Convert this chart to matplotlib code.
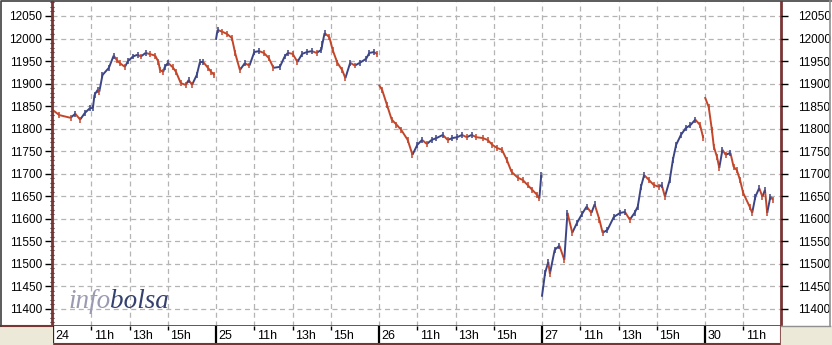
import matplotlib
matplotlib.use("Agg")
import matplotlib.pyplot as plt
from matplotlib.collections import LineCollection
from matplotlib.patches import Rectangle
from matplotlib.lines import Line2D
import numpy as np

# sesiones del gráfico (9:00 a 17:30) y horas marcadas en el eje
dias = ["24", "25", "26", "27", "30"]
horas = ["11h", "13h", "15h"]
horas_num = [11, 13, 15]

# minutos desde la apertura y cotización
t24 = [0, 20, 55, 70, 85, 100, 115, 125, 130, 140, 145, 155, 175, 190, 200, 210, 225, 235, 250, 265,
       275, 290, 305, 320, 330, 335, 345, 350, 360, 375, 385, 400, 415, 425, 435, 450, 460, 470, 485, 495, 505]
p24 = [11841, 11830, 11824, 11833, 11820, 11835, 11845, 11846, 11875, 11886, 11882, 11919, 11935, 11962,
       11952, 11945, 11937, 11950, 11960, 11964, 11960, 11968, 11965, 11962, 11948, 11930, 11926, 11937,
       11946, 11936, 11926, 11901, 11897, 11908, 11897, 11919, 11948, 11948, 11935, 11926, 11919]

t25 = [0, 5, 20, 35, 50, 60, 75, 90, 105, 120, 135, 150, 165, 180, 200, 215, 225, 240, 255, 270,
       285, 300, 315, 330, 333, 340, 355, 365, 380, 395, 405, 420, 435, 450, 470, 480, 495, 505]
p25 = [11997, 12019, 12015, 12010, 12001, 11968, 11930, 11945, 11940, 11970, 11972, 11968, 11957, 11935,
       11937, 11960, 11968, 11966, 11948, 11966, 11970, 11972, 11968, 11975, 11988, 12012, 12003, 11975,
       11946, 11930, 11912, 11946, 11940, 11946, 11955, 11968, 11970, 11965]

t26 = [0, 10, 25, 40, 55, 70, 90, 105, 120, 135, 150, 165, 180, 200, 215, 230, 245, 260, 275, 290,
       305, 325, 340, 355, 370, 385, 400, 415, 435, 450, 465, 480, 495, 502, 508]
p26 = [11897, 11886, 11853, 11820, 11809, 11797, 11775, 11742, 11764, 11775, 11766, 11775, 11779, 11786,
       11775, 11779, 11781, 11786, 11781, 11786, 11781, 11779, 11775, 11764, 11757, 11753, 11731, 11704,
       11691, 11686, 11675, 11664, 11653, 11645, 11697]

t27 = [0, 10, 20, 25, 40, 55, 70, 80, 95, 110, 125, 140, 155, 165, 180, 190, 205, 225, 245, 260,
       275, 290, 300, 310, 320, 335, 350, 365, 375, 385, 400, 410, 420, 435, 450, 465, 480, 495, 505]
p27 = [11427, 11480, 11504, 11478, 11531, 11540, 11509, 11613, 11569, 11591, 11610, 11627, 11613, 11632,
       11598, 11569, 11575, 11604, 11613, 11615, 11598, 11613, 11627, 11671, 11697, 11686, 11675, 11671,
       11675, 11649, 11686, 11731, 11764, 11786, 11801, 11808, 11820, 11808, 11779]

t30 = [0, 12, 22, 28, 38, 45, 55, 65, 80, 90, 100, 110, 120, 140, 148, 158, 170, 180, 188, 195, 205, 213]
p30 = [11870, 11848, 11797, 11760, 11737, 11713, 11753, 11742, 11746, 11715, 11708, 11686, 11657, 11627,
       11613, 11649, 11668, 11649, 11664, 11613, 11649, 11642]

sesiones = [(t24, p24), (t25, p25), (t26, p26), (t27, p27), (t30, p30)]

DUR = 8.5  # horas por sesión
AZUL = "#3b4586"
ROJO = "#c4462a"
GRANATE = "#7a3535"
W, H = 832, 345

L, R = 52 / W, 781 / W
B, T = 1 - 326 / H, 1 - 2 / H

fig = plt.figure(figsize=(W / 100, H / 100), dpi=100, facecolor="white")
ax = fig.add_axes([L, B, R - L, T - B])

segs, cols = [], []
px, py, pc = [], [], []
for i, (t, p) in enumerate(sesiones):
    x = i * DUR + np.array(t) / 60
    y = np.array(p)
    for j in range(len(x) - 1):
        segs.append([(x[j], y[j]), (x[j + 1], y[j + 1])])
        c = AZUL if y[j + 1] >= y[j] else ROJO
        cols.append(c)
        px.append(x[j + 1]); py.append(y[j + 1]); pc.append(c)
ax.add_collection(LineCollection(segs, colors=cols, linewidths=1.4))
ax.scatter(px, py, marker="|", s=18, c=pc, linewidths=1.1, zorder=3)

xmin, xmax = -0.05, 4 * DUR + 3.97
ax.set_xlim(xmin, xmax)
ax.set_ylim(11362, 12081)

pos_dias = [i * DUR for i in range(len(dias))]
pos_horas = [i * DUR + h - 9 for i in range(len(dias)) for h in horas_num if i * DUR + h - 9 < xmax]
ax.set_xticks(pos_dias + pos_horas)
ax.tick_params(axis="x", length=0, labelbottom=False)
ax.set_yticks(np.arange(11400, 12051, 50))
ax.set_yticks(np.arange(11370, 12081, 10), minor=True)
ax.grid(True, which="major", color="#b4b4b4", linestyle=(0, (4, 3)), linewidth=0.9)
ax.set_axisbelow(True)

ax.spines["top"].set_visible(False)
for s in ["left", "right", "bottom"]:
    ax.spines[s].set_color(GRANATE)
    ax.spines[s].set_linewidth(2)

ax.tick_params(axis="y", which="major", direction="out", length=5, width=1, color="black",
               labelsize=8.5, pad=2, left=True, right=False)
ax.tick_params(axis="y", which="minor", direction="inout", length=3, width=0.8, color="#3a1a1a",
               left=True, right=True)

axr = ax.twinx()
axr.set_ylim(ax.get_ylim())
axr.set_yticks(np.arange(11400, 12051, 50))
axr.tick_params(axis="y", which="major", direction="out", length=5, width=1, color="black",
                labelsize=8.5, pad=7)
for s in axr.spines.values():
    s.set_visible(False)

for a in (ax, axr):
    for lab in a.get_yticklabels():
        lab.set_fontfamily("Liberation Sans")

# franja inferior con los días y las horas
axs = fig.add_axes([L, 0.004, R - L, B - 0.004], sharex=ax)
axs.set_facecolor("white")
axs.set_ylim(0, 1)
axs.set_yticks([])
axs.tick_params(axis="x", length=0, labelbottom=False)
for s in ["top", "left"]:
    axs.spines[s].set_visible(False)
for s in ["right", "bottom"]:
    axs.spines[s].set_color(GRANATE)
    axs.spines[s].set_linewidth(1.5)
axs.vlines(pos_dias, 0, 1, color="black", linewidth=1.6)
axs.vlines(pos_horas, 0.75, 1, color="black", linewidth=1)
for x, lab in zip(pos_dias, dias):
    axs.text(x + 0.13, 0.42, lab, ha="left", va="center", fontsize=9, family="Liberation Sans")
for i in range(len(dias)):
    for h, lab in zip(horas_num, horas):
        x = i * DUR + h - 9
        if x < xmax:
            axs.text(x + 0.13, 0.42, lab, ha="left", va="center", fontsize=9, family="Liberation Sans")

# fondo beige fuera de la franja
fig.patches.append(Rectangle((0, 0), L, B, transform=fig.transFigure, color="#ece9d8", zorder=0))
fig.patches.append(Rectangle((R, 0), 1 - R, B, transform=fig.transFigure, color="#ece9d8", zorder=0))
fig.lines.append(Line2D([0, L], [B, B], transform=fig.transFigure, color=GRANATE, linewidth=1.5))
fig.lines.append(Line2D([R, 0.997], [B, B], transform=fig.transFigure, color="#909090", linewidth=1))
# marco
fig.lines.append(Line2D([0.001, 0.001, 0.999], [B, 0.998, 0.998], transform=fig.transFigure,
                        color="#404040", linewidth=1.2))
fig.lines.append(Line2D([0.997, 0.997], [B, 0.998], transform=fig.transFigure,
                        color="#909090", linewidth=1.2))

# marca de agua
t1 = fig.text(68 / W, 1 - 314 / H, "info", fontsize=19.5, style="italic", family="Liberation Serif",
              color="#9a9ab2", ha="left", va="bottom")
ax.annotate("bolsa", xy=(1, 0), xycoords=t1, fontsize=19.5, style="italic", family="Liberation Serif",
            color="#34406e", ha="left", va="bottom", annotation_clip=False)

fig.savefig("out.png", dpi=100, facecolor="white")
